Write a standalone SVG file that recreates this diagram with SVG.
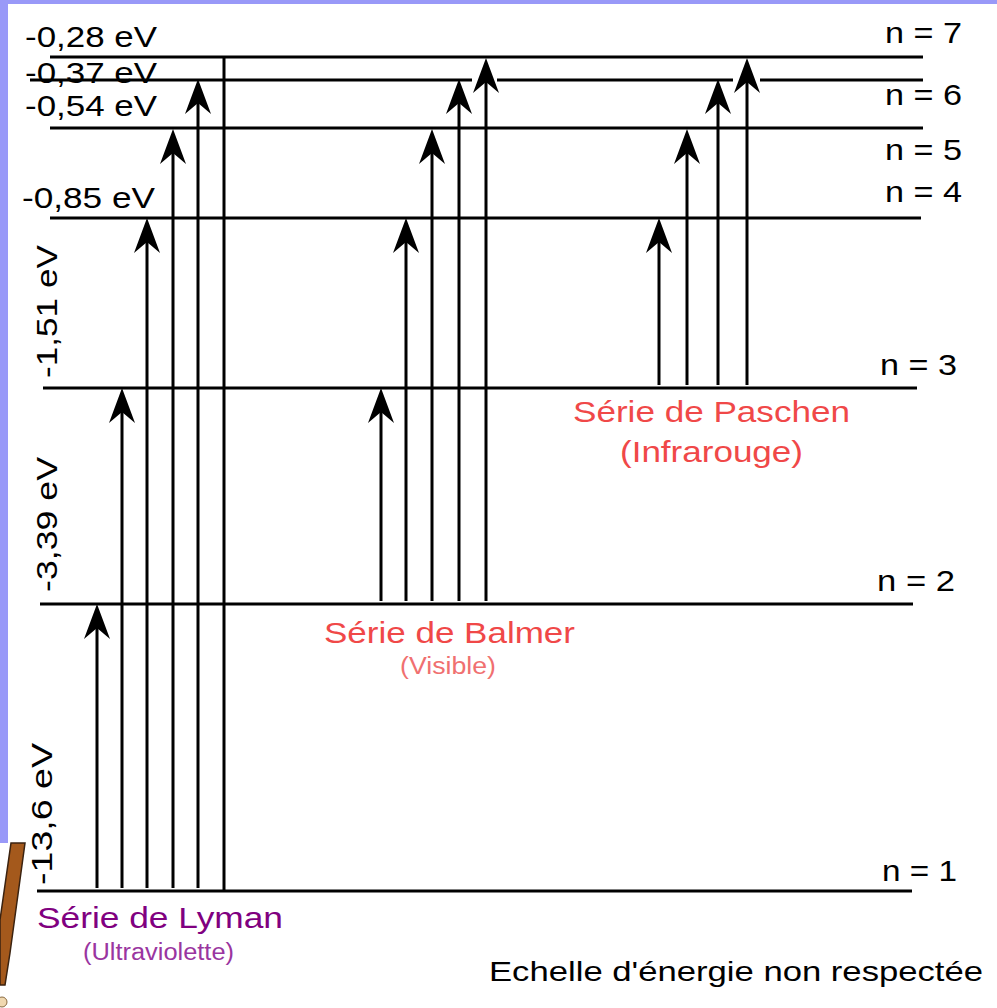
<svg xmlns="http://www.w3.org/2000/svg" xmlns:xlink="http://www.w3.org/1999/xlink" width="997" height="1008" viewBox="0 0 997 1008">
<style>
.lvl{stroke:#000;stroke-width:3;fill:none}
.shaft{stroke:#000;stroke-width:3;fill:none}
.t{font-family:"Liberation Sans",Arial,sans-serif;fill:#000}
.big{font-size:29.5px}
.sub{font-size:23px}
.lyman{fill:#800080}
.lymsub{fill:#9a35a0}
.red{fill:#f04848}
.redsub{fill:#f07070}
</style>
<defs>
<path id="head" d="M0,0 L13,35 L0,24 L-13,35 Z" fill="#000"/>
</defs>
<rect x="0" y="0" width="997" height="1008" fill="#fff"/>
<g id="border">
<rect x="0" y="0" width="997" height="4" fill="#9999f8"/>
<rect x="0" y="0" width="8" height="843" fill="#9999f8"/>
<polygon points="11,843 25,843 10,953 5,985 0,985 0,920" fill="#a4591c" stroke="#3a2210" stroke-width="1.5"/>
<ellipse cx="2" cy="1002" rx="5" ry="5" fill="#f0d8b0" stroke="#8a6a40" stroke-width="1"/>
</g>

<g id="level-7">
<line class="lvl" x1="50" y1="57" x2="923" y2="57"/>
<text class="t big" x="25" y="47" textLength="132" lengthAdjust="spacingAndGlyphs">-0,28 eV</text>
<text class="t big" x="885" y="43" textLength="77" lengthAdjust="spacingAndGlyphs">n = 7</text>
</g>
<g id="level-6">
<text class="t big" x="25" y="83" textLength="132" lengthAdjust="spacingAndGlyphs">-0,37 eV</text>
<line class="lvl" x1="30" y1="80" x2="923" y2="80"/>
<text class="t big" x="885" y="105" textLength="77" lengthAdjust="spacingAndGlyphs">n = 6</text>
</g>
<g id="level-5">
<line class="lvl" x1="50" y1="128" x2="923" y2="128"/>
<text class="t big" x="25" y="116" textLength="132" lengthAdjust="spacingAndGlyphs">-0,54 eV</text>
<text class="t big" x="885" y="160" textLength="77" lengthAdjust="spacingAndGlyphs">n = 5</text>
</g>
<g id="level-4">
<line class="lvl" x1="50" y1="218" x2="921" y2="218"/>
<text class="t big" x="22" y="208" textLength="133" lengthAdjust="spacingAndGlyphs">-0,85 eV</text>
<text class="t big" x="885" y="202" textLength="77" lengthAdjust="spacingAndGlyphs">n = 4</text>
</g>
<g id="level-3">
<line class="lvl" x1="43" y1="388" x2="917" y2="388"/>
<text class="t big" transform="translate(57,378) rotate(-90)" x="0" y="0" textLength="133" lengthAdjust="spacingAndGlyphs">-1,51 eV</text>
<text class="t big" x="880" y="375" textLength="77" lengthAdjust="spacingAndGlyphs">n = 3</text>
</g>
<g id="level-2">
<line class="lvl" x1="40" y1="604" x2="913" y2="604"/>
<text class="t big" transform="translate(57,592) rotate(-90)" x="0" y="0" textLength="135" lengthAdjust="spacingAndGlyphs">-3,39 eV</text>
<text class="t big" x="877" y="591" textLength="78" lengthAdjust="spacingAndGlyphs">n = 2</text>
</g>
<g id="level-1">
<line class="lvl" x1="37" y1="891" x2="912" y2="891"/>
<text class="t big" transform="translate(52,885) rotate(-90)" x="0" y="0" textLength="142" lengthAdjust="spacingAndGlyphs">-13,6 eV</text>
<text class="t big" x="882" y="881" textLength="75" lengthAdjust="spacingAndGlyphs">n = 1</text>
</g>

<g id="connectors">
<g id="lyman-arrows">
<line class="shaft" x1="97" y1="888" x2="97" y2="626"/><use xlink:href="#head" x="97" y="604"/>
<line class="shaft" x1="122" y1="888" x2="122" y2="411"/><use xlink:href="#head" x="122" y="388"/>
<line class="shaft" x1="147" y1="888" x2="147" y2="241"/><use xlink:href="#head" x="147" y="218"/>
<line class="shaft" x1="173" y1="888" x2="173" y2="151"/><use xlink:href="#head" x="173" y="129"/>
<line class="shaft" x1="198" y1="888" x2="198" y2="102"/><use xlink:href="#head" x="198" y="79"/>
<line class="shaft" x1="224" y1="57" x2="224" y2="891"/>
</g>
<g id="balmer-arrows">
<line class="shaft" x1="381" y1="601" x2="381" y2="411"/><use xlink:href="#head" x="381" y="388"/>
<line class="shaft" x1="406" y1="601" x2="406" y2="241"/><use xlink:href="#head" x="406" y="218"/>
<line class="shaft" x1="432" y1="601" x2="432" y2="151"/><use xlink:href="#head" x="432" y="129"/>
<line class="shaft" x1="459" y1="601" x2="459" y2="102"/><use xlink:href="#head" x="459" y="79"/>
<rect x="472" y="77" width="25" height="6" fill="#fff"/>
<line class="shaft" x1="486" y1="601" x2="486" y2="81"/><use xlink:href="#head" x="486" y="58"/>
</g>
<g id="paschen-arrows">
<line class="shaft" x1="659" y1="385" x2="659" y2="241"/><use xlink:href="#head" x="659" y="218"/>
<line class="shaft" x1="687" y1="385" x2="687" y2="151"/><use xlink:href="#head" x="687" y="129"/>
<line class="shaft" x1="718" y1="385" x2="718" y2="102"/><use xlink:href="#head" x="718" y="79"/>
<rect x="733" y="77" width="27" height="6" fill="#fff"/>
<line class="shaft" x1="747" y1="385" x2="747" y2="81"/><use xlink:href="#head" x="747" y="58"/>
</g>
</g>

<g id="lyman-label">
<text class="t big lyman" x="37" y="928" textLength="246" lengthAdjust="spacingAndGlyphs">Série de Lyman</text>
<text class="t sub lymsub" x="83" y="960" textLength="151" lengthAdjust="spacingAndGlyphs">(Ultraviolette)</text>
</g>
<g id="balmer-label">
<text class="t big red" x="324" y="643" textLength="251" lengthAdjust="spacingAndGlyphs">Série de Balmer</text>
<text class="t sub redsub" x="400" y="674" textLength="96" lengthAdjust="spacingAndGlyphs">(Visible)</text>
</g>
<g id="paschen-label">
<text class="t big red" x="573" y="422" textLength="277" lengthAdjust="spacingAndGlyphs">Série de Paschen</text>
<text class="t big red" x="620" y="462" textLength="183" lengthAdjust="spacingAndGlyphs">(Infrarouge)</text>
</g>
<g id="note">
<text class="t" x="489" y="981" font-size="28.5" textLength="494" lengthAdjust="spacingAndGlyphs">Echelle d'énergie non respectée</text>
</g>
</svg>
